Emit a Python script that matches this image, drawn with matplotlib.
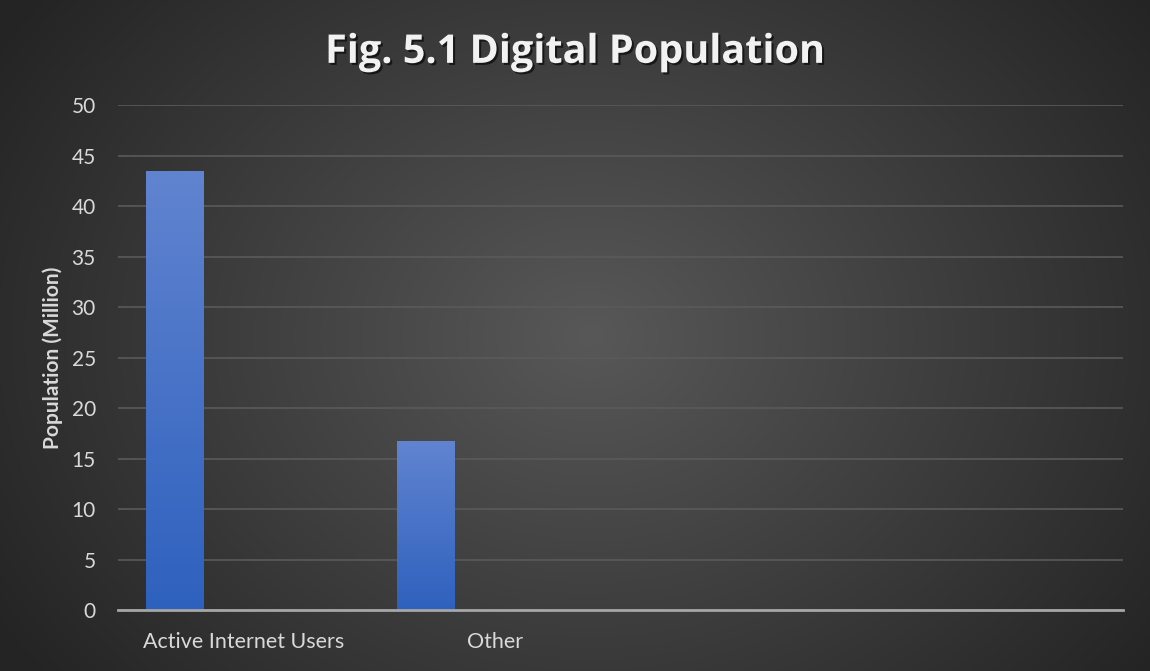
import numpy as np
import matplotlib
matplotlib.use("Agg")
from matplotlib import pyplot as plt
import matplotlib.patheffects as pe

# data
categories = ["Active Internet Users", "Other", "", ""]
population = [43.5, 16.7]
yticks = [0, 5, 10, 15, 20, 25, 30, 35, 40, 45, 50]

plt.rcParams['font.family'] = ['Lato', 'DejaVu Sans']

fig = plt.figure(figsize=(11.5, 6.71), dpi=100)
fig.patch.set_facecolor("#2b2b2b")

# radial gradient background
bg = fig.add_axes([0, 0, 1, 1], zorder=0)
yy, xx = np.mgrid[0:671, 0:1150]
r = np.sqrt(((xx - 590) / 700.0) ** 2 + ((yy - 335) / 560.0) ** 2)
r = np.clip(r, 0, 1)
inner = np.array([0x58, 0x58, 0x58]) / 255.0
outer = np.array([0x24, 0x24, 0x24]) / 255.0
img = inner[None, None, :] * (1 - r[..., None]) + outer[None, None, :] * r[..., None]
bg.imshow(img, aspect="auto", interpolation="bilinear")
bg.axis("off")

ax = fig.add_axes([0.1026, 0.0909, 0.8739, 0.7526], zorder=1)
ax.set_facecolor("none")

x = np.arange(len(categories))
offset = -0.275
width = 0.227
bars = ax.bar(x[:len(population)] + offset, population, width=width,
              color="#4472c4", zorder=3)

# vertical gradient fill for each bar
grad = np.linspace(0, 1, 256)[:, None]
top_c = np.array([0x61, 0x84, 0xd0]) / 255.0
bot_c = np.array([0x2e, 0x61, 0xbe]) / 255.0
gimg = top_c[None, None, :] * (1 - grad[..., None]) + bot_c[None, None, :] * grad[..., None]
gimg = np.repeat(gimg, 2, axis=1)
for b in bars:
    bx, by = b.get_x(), b.get_y()
    bw, bh = b.get_width(), b.get_height()
    im = ax.imshow(gimg, extent=[bx, bx + bw, by, by + bh], aspect="auto",
                   zorder=4, interpolation="bilinear")
    im.set_clip_path(b)
    b.set_path_effects([pe.SimpleLineShadow(offset=(3, -2), shadow_color="black", alpha=0.3), pe.Normal()])

ax.set_xlim(-0.5, len(categories) - 0.5)
ax.set_ylim(0, 50)
ax.set_yticks(yticks)
ax.set_xticks(x[:2])
ax.set_xticklabels(categories[:2])

ax.grid(axis="y", color="#5a5a5a", linewidth=1.2, zorder=0)
for s in ["top", "right", "left"]:
    ax.spines[s].set_visible(False)
ax.spines["bottom"].set_color("#a6a6a6")
ax.spines["bottom"].set_linewidth(2)
ax.spines["bottom"].set_zorder(5)
ax.tick_params(axis="both", length=0, colors="#d9d9d9", labelsize=15)
ax.tick_params(axis="y", pad=16)
ax.tick_params(axis="x", pad=16, labelsize=15.5)

ax.set_ylabel("Population (Million)", color="#d9d9d9", fontsize=15,
              fontweight="bold", labelpad=6)

fig.text(0.5, 0.922, "Fig. 5.1 Digital Population", ha="center", va="center",
         color="#f2f2f2", fontsize=28.5, fontweight="bold", family=["Open Sans", "DejaVu Sans"],
         path_effects=[pe.withSimplePatchShadow(offset=(1.5, -1.5), shadow_rgbFace="black", alpha=0.6)])

fig.savefig("out.png", dpi=100, facecolor=fig.get_facecolor())
